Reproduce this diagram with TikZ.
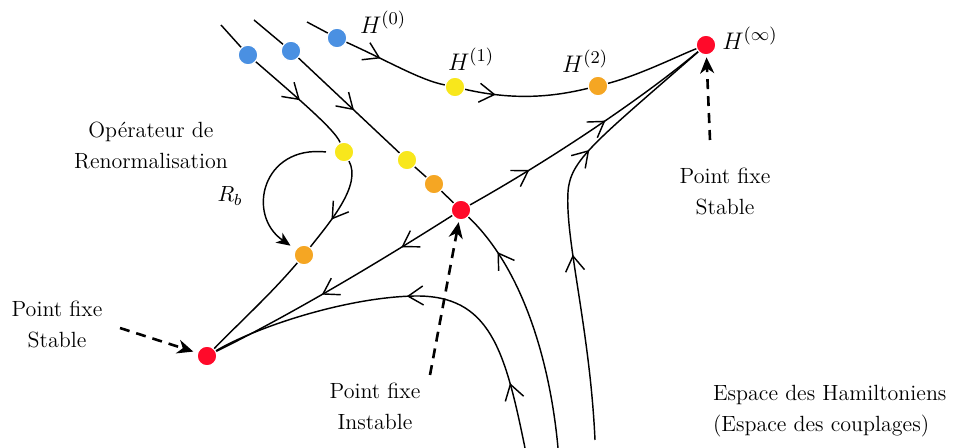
\documentclass[tikz,border=0pt]{standalone}
\usetikzlibrary{arrows.meta,decorations.markings}
\definecolor{dblue}{HTML}{4A90E2}
\definecolor{dyellow}{HTML}{F8E71C}
\definecolor{dorange}{HTML}{F5A623}
\definecolor{dred}{HTML}{FF0A2A}
\tikzset{
  flow/.style={line width=0.72pt},
  fwd/.style={postaction={decorate,decoration={markings,mark=at position #1 with {\arrow{Straight Barb[length=7.5pt,width=9.5pt]}}}}},
  bwd/.style={postaction={decorate,decoration={markings,mark=at position #1 with {\arrowreversed{Straight Barb[length=7.5pt,width=9.5pt]}}}}},
  dot/.style={circle,minimum size=9.8pt,inner sep=0pt,draw=white,line width=0.6pt,fill=#1},
  dasharrow/.style={line width=1.3pt,dash pattern=on 5pt off 3.5pt,-{Stealth[length=8pt,width=7pt,inset=2.5pt]}},
  lbl/.style={font=\fontsize{11}{15.5}\selectfont,align=center},
  hlbl/.style={font=\fontsize{13}{15}\selectfont},
}
\begin{document}
\begin{tikzpicture}[x=0.5pt,y=-0.5pt]
\useasboundingbox (0,0) rectangle (953,448);
% dots
\node[dot=dblue] (B1) at (248,55) {};
\node[dot=dblue] (B2) at (291,51) {};
\node[dot=dblue] (B3) at (337,38) {};
\node[dot=dyellow] (Y1) at (344,152) {};
\node[dot=dyellow] (Y2) at (407,160) {};
\node[dot=dyellow] (Y3) at (455,87) {};
\node[dot=dorange] (O1) at (304,255) {};
\node[dot=dorange] (O2) at (434,184) {};
\node[dot=dorange] (O3) at (598,86) {};
\node[dot=dred] (R1) at (207,356) {};
\node[dot=dred] (R2) at (461,210) {};
\node[dot=dred] (R3) at (706,45) {};
% free ends
\coordinate (s1) at (221,25);
\coordinate (s2) at (254,20);
\coordinate (s3) at (307,22);
\coordinate (e2) at (558,448);
\coordinate (e4) at (595,440);
\coordinate (m4) at (568,192);
\coordinate (e5) at (525,448);
\coordinate (m5) at (415,296);
\coordinate (rb) at (326,152);
\coordinate (d1) at (120,328);
\coordinate (d2) at (430,375);
\coordinate (d3) at (710,140);
% flow line 1
\draw[flow] (s1) -- (B1);
\draw[flow,fwd=0.5] (B1) .. controls (300,100) and (335,130) .. (Y1);
\draw[flow,fwd=0.65] (Y1) .. controls (362,185) and (330,222) .. (O1);
\draw[flow] (O1) .. controls (270,295) and (240,322) .. (R1);
% flow line 2
\draw[flow] (s2) -- (B2);
\draw[flow,fwd=0.55] (B2) -- (Y2);
\draw[flow] (Y2) -- (O2);
\draw[flow] (O2) -- (R2);
\draw[flow,bwd=0.18] (R2) .. controls (522,268) and (550,360) .. (e2);
% flow line 3
\draw[flow] (s3) -- (B3);
\draw[flow,fwd=0.35] (B3) .. controls (390,62) and (420,80) .. (Y3);
\draw[flow,fwd=0.25] (Y3) .. controls (520,102) and (560,95) .. (O3);
\draw[flow] (O3) .. controls (640,75) and (680,55) .. (R3);
% separatrices
\draw[flow,fwd=0.25,fwd=0.58] (R2) .. controls (550,160) and (640,100) .. (R3);
\draw[flow,fwd=0.22,fwd=0.56] (R2) .. controls (390,255) and (300,310) .. (R1);
\draw[flow,fwd=0.42,fwd=0.67] (e4) .. controls (590,330) and (565,240) .. (m4) .. controls (570,160) and (595,142) .. (R3);
\draw[flow,fwd=0.16,fwd=0.52] (e5) .. controls (505,350) and (490,295) .. (m5) .. controls (350,297) and (260,325) .. (R1);
% renormalisation operator arrow
\draw[line width=0.72pt,-{Stealth[length=7pt,width=6pt,inset=2pt]},shorten >=3pt] (rb) .. controls (262,145) and (246,215) .. (O1);
% dashed pointers
\draw[dasharrow,shorten >=2pt] (d1) -- (R1);
\draw[dasharrow,shorten >=1pt] (d2) -- (R2);
\draw[dasharrow,shorten >=1pt] (d3) -- (R3);
% labels
\node[hlbl] (h0) at (383,22) {$H^{(0)}$};
\node[hlbl] (h1) at (471,59) {$H^{(1)}$};
\node[hlbl] (h2) at (585,61) {$H^{(2)}$};
\node[hlbl] (hi) at (750,38) {$H^{(\infty)}$};
\node[lbl] (rbl) at (230,196) {$R_b$};
\node[lbl] (op) at (151,145) {Opérateur de\\Renormalisation};
\node[lbl] (pf1) at (57,324) {Point fixe\\Stable};
\node[lbl] (pf2) at (375,406) {Point fixe\\Instable};
\node[lbl] (pf3) at (725,191) {Point fixe\\Stable};
\node[lbl,align=left,anchor=west] (esp) at (706,411) {Espace des Hamiltoniens\\(Espace des couplages)};
\end{tikzpicture}
\end{document}
